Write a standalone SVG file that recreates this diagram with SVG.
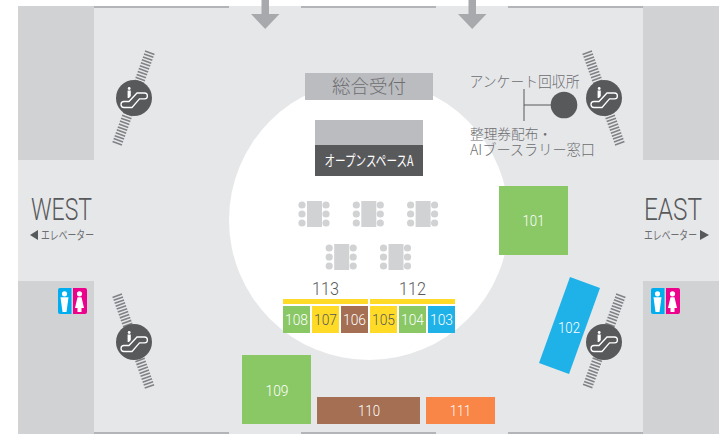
<svg xmlns="http://www.w3.org/2000/svg" xmlns:xlink="http://www.w3.org/1999/xlink" width="722" height="434" viewBox="0 0 722 434">
<style>
text{font-family:"Roboto","Noto Sans CJK JP",sans-serif;text-anchor:middle}
.jp{font-family:"Noto Sans CJK JP",sans-serif;font-weight:300;fill:#6d6e71;text-anchor:start}
.n{font-size:15.500px;font-weight:300;fill:#fff}
.h{font-size:18px;font-weight:300;fill:#58595b}
.big{font-size:31px;font-weight:300;fill:#58595b}
.d{fill:#58595b}
.wall{fill:#d1d2d4}
.edge{stroke:#808285;stroke-width:1.2;fill:none}
.stair{stroke:#808285;stroke-width:10;stroke-dasharray:1.6 1.5;fill:none}
.g{fill:#8ac866}.y{fill:#ffdb27}.b{fill:#a46f52}.c{fill:#1fb2e8}.o{fill:#f98546}
.t{fill:#d1d2d4}
</style>
<defs>
<g id="esc">
<circle r="18" fill="#58595b"/>
<path d="M-9.500,3.500 H-5 L3,-5 H10.500 a2.900,2.900 0 0 1 0,5.800 H5.500 L-2,9.500 H-10 a3,3 0 0 1 0,-6z" fill="none" stroke="#fff" stroke-width="1.300"/>
<circle cx="-4.800" cy="-9.500" r="1.400" fill="#fff"/>
<path d="M-6.400,-7.500 H-3.200 V-2 L-5,0 H-6.400z" fill="#fff"/>
</g>
<g id="tbl" class="t">
<rect x="5" y="0" width="15" height="26"/>
<circle cx="0" cy="4" r="3.600"/><circle cx="0" cy="13" r="3.600"/><circle cx="0" cy="22" r="3.600"/>
<circle cx="24" cy="4" r="3.600"/><circle cx="24" cy="13" r="3.600"/><circle cx="24" cy="22" r="3.600"/>
</g>
<g id="wc">
<path d="M2,0 H13.500 V26 H2 a2,2 0 0 1 -2,-2 V2 a2,2 0 0 1 2,-2z" fill="#00aeef"/>
<path d="M15,0 H27 a2,2 0 0 1 2,2 V24 a2,2 0 0 1 -2,2 H15z" fill="#ec008c"/>
<circle cx="6.500" cy="5.800" r="2.600" fill="#fff"/>
<path d="M2.500,9.300 H10.500 L8.500,24 H4.500z" fill="#fff"/>
<circle cx="21.500" cy="5.800" r="2.600" fill="#fff"/>
<path d="M19.500,9.300 H23.500 L26,20 H23.500 V24 H19.500 V20 H17z" fill="#fff"/>
</g>
</defs>

<g id="floor">
<rect x="18" y="6" width="701" height="428" fill="#e6e7e9"/>
<rect class="wall" x="18" y="6" width="76" height="154"/>
<rect class="wall" x="18" y="281" width="76" height="153"/>
<rect class="wall" x="643" y="6" width="76" height="154"/>
<rect class="wall" x="643" y="281" width="76" height="153"/>
<circle cx="369" cy="220" r="140" fill="#fff"/>
<path class="edge" d="M94,7H229M301,7H436M508,7H643M94,433H229M301,433H436M508,433H643"/>
</g>

<g id="arrow-left"><rect x="261.500" y="0" width="7.500" height="15" fill="#a7a9ac"/><path d="M251,14H279.500L265.200,29z" fill="#a7a9ac"/></g>
<g id="arrow-right"><rect x="468.500" y="0" width="7.500" height="15" fill="#a7a9ac"/><path d="M458,14H486.500L472.200,29z" fill="#a7a9ac"/></g>

<g id="esc-tl"><path class="stair" d="M150,52L117,144"/><use xlink:href="#esc" href="#esc" x="134" y="98"/></g>
<g id="esc-tr"><path class="stair" d="M587,52L620,144"/><use xlink:href="#esc" href="#esc" x="604" y="98"/></g>
<g id="esc-bl"><path class="stair" d="M117,295L150,388"/><use xlink:href="#esc" href="#esc" x="134" y="342"/></g>
<g id="esc-br"><path class="stair" d="M621,295L587,388"/><use xlink:href="#esc" href="#esc" x="604" y="342"/></g>

<g id="reception"><rect x="305" y="73" width="128" height="27" fill="#bbbcbf"/><text x="369" y="93" style="font-family:'Noto Sans CJK JP',sans-serif;font-weight:300;font-size:18.500px;fill:#6d6e71">総合受付</text></g>
<g id="open-space"><rect x="315" y="120" width="108" height="25" fill="#bbbcbf"/><rect class="d" x="315" y="145" width="108" height="31"/><text x="369" y="166" textLength="89" lengthAdjust="spacingAndGlyphs" style="font-family:'Noto Sans CJK JP',sans-serif;font-size:14.500px;fill:#fff">オープンスペースA</text></g>

<g id="tables">
<use xlink:href="#tbl" href="#tbl" x="302" y="201"/>
<use xlink:href="#tbl" href="#tbl" x="356.300" y="201"/>
<use xlink:href="#tbl" href="#tbl" x="410.600" y="201"/>
<use xlink:href="#tbl" href="#tbl" x="329.200" y="244"/>
<use xlink:href="#tbl" href="#tbl" x="383.500" y="244"/>
</g>

<g id="b113"><rect class="y" x="283" y="299" width="85" height="5"/><text class="h" x="325.500" y="295" textLength="27" lengthAdjust="spacingAndGlyphs">113</text></g>
<g id="b112"><rect class="y" x="370" y="299" width="85" height="5"/><text class="h" x="412.500" y="295" textLength="27" lengthAdjust="spacingAndGlyphs">112</text></g>
<g id="b108"><rect class="g" x="283" y="306" width="27" height="27"/><text class="n" x="296.500" y="325" textLength="23" lengthAdjust="spacingAndGlyphs">108</text></g>
<g id="b107"><rect class="y" x="312" y="306" width="27" height="27"/><text class="n" x="325.500" y="325" textLength="23" lengthAdjust="spacingAndGlyphs" style="fill:#58595b">107</text></g>
<g id="b106"><rect class="b" x="341" y="306" width="27" height="27"/><text class="n" x="354.500" y="325" textLength="23" lengthAdjust="spacingAndGlyphs">106</text></g>
<g id="b105"><rect class="y" x="370" y="306" width="27" height="27"/><text class="n" x="383.500" y="325" textLength="23" lengthAdjust="spacingAndGlyphs" style="fill:#58595b">105</text></g>
<g id="b104"><rect class="g" x="399" y="306" width="27" height="27"/><text class="n" x="412.500" y="325" textLength="23" lengthAdjust="spacingAndGlyphs">104</text></g>
<g id="b103"><rect class="c" x="428" y="306" width="27" height="27"/><text class="n" x="441.500" y="325" textLength="23" lengthAdjust="spacingAndGlyphs">103</text></g>
<g id="b101"><rect class="g" x="499" y="186" width="69" height="69"/><text class="n" x="533.500" y="226" textLength="22" lengthAdjust="spacingAndGlyphs">101</text></g>
<g id="b102"><path class="c" d="M570,277L600,288L569,374L539,363z"/><text class="n" x="569" y="333" textLength="22" lengthAdjust="spacingAndGlyphs">102</text></g>
<g id="b109"><rect class="g" x="242" y="355" width="69" height="69"/><text class="n" x="277" y="396" textLength="23" lengthAdjust="spacingAndGlyphs">109</text></g>
<g id="b110"><rect class="b" x="317" y="397" width="103" height="27"/><text class="n" x="369" y="416" textLength="22" lengthAdjust="spacingAndGlyphs">110</text></g>
<g id="b111"><rect class="o" x="426" y="397" width="69" height="27"/><text class="n" x="460.500" y="416" textLength="21" lengthAdjust="spacingAndGlyphs">111</text></g>

<g id="connectors"><path d="M524,89V121M524,105H552" fill="none" stroke="#58595b" stroke-width="1"/></g>
<g id="booth"><circle class="d" cx="564" cy="105" r="13.300"/>
<text class="jp" x="469.500" y="87" textLength="110" lengthAdjust="spacingAndGlyphs" style="font-size:14.500px">アンケート回収所</text>
<text class="jp" x="470" y="139" textLength="82" lengthAdjust="spacingAndGlyphs" style="font-size:14px">整理券配布・</text>
<text class="jp" x="470" y="155" textLength="125" lengthAdjust="spacingAndGlyphs" style="font-size:14.500px">AIブースラリー窓口</text></g>

<g id="west"><text class="big" x="61.500" y="220" textLength="61" lengthAdjust="spacingAndGlyphs">WEST</text>
<path class="d" d="M30,235L38,230V240z"/><text class="jp" x="41" y="239.500" textLength="53" lengthAdjust="spacingAndGlyphs" style="font-size:12px;font-weight:400">エレベーター</text></g>
<g id="east"><text class="big" x="673" y="220" textLength="58" lengthAdjust="spacingAndGlyphs">EAST</text>
<path class="d" d="M709,235L700,230V240z"/><text class="jp" x="644" y="239.500" textLength="53" lengthAdjust="spacingAndGlyphs" style="font-size:12px;font-weight:400">エレベーター</text></g>

<g id="wc-west"><use xlink:href="#wc" href="#wc" x="58" y="288"/></g>
<g id="wc-east"><use xlink:href="#wc" href="#wc" x="651" y="288"/></g>
</svg>
